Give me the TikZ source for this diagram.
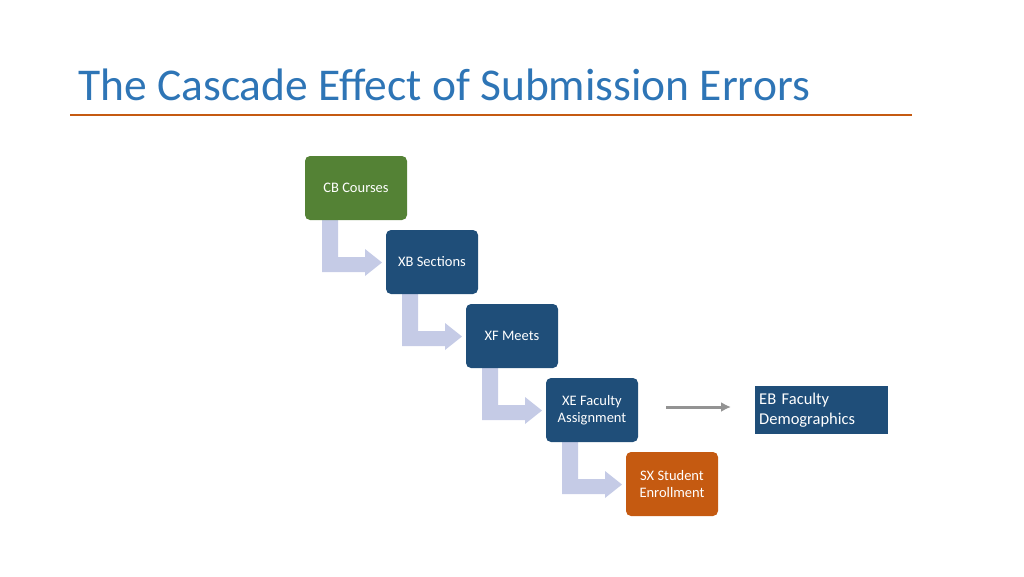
\documentclass[tikz,border=0pt]{standalone}
\usepackage{fontspec}
\setmainfont{Carlito}
\usetikzlibrary{arrows.meta}
\begin{document}
\begin{tikzpicture}[x=1pt,y=-1pt,
  box/.style={rounded corners=5pt,text=white,font=\fontsize{14.5}{17.5}\selectfont,align=center,inner sep=0pt},
  bent/.style={fill=bentc,draw=none}]
\definecolor{gr}{HTML}{548235}
\definecolor{bl}{HTML}{1F4E79}
\definecolor{og}{HTML}{C55A11}
\definecolor{bentc}{HTML}{C5CBE6}
\useasboundingbox (0,0) rectangle (1024,576);
\node[anchor=base west,font=\fontsize{45.5}{50}\selectfont,inner sep=0pt] (title) at (78,100) {\color[HTML]{2E75B6}The Cascade Effect of Submission Errors};
\coordinate (l1) at (70,115); \coordinate (l2) at (912,115);
\draw[og,line width=1.5pt] (l1) -- (l2);
\foreach \i in {0,1,2,3}{
  \fill[bentc,shift={(80*\i,74*\i)}] (322,220) -- (338,220) -- (338,257) -- (365,257) -- (365,249) -- (382,262.5) -- (365,276) -- (365,272) -- (322,272) -- cycle;
}
\node[box,fill=gr,minimum width=102pt,minimum height=64pt] (cb) at (356,188) {CB Courses};
\node[box,fill=bl,minimum width=92pt,minimum height=64pt] (xb) at (432,262) {XB Sections};
\node[box,fill=bl,minimum width=92pt,minimum height=64pt] (xf) at (512,336) {XF Meets};
\node[box,fill=bl,minimum width=92pt,minimum height=64pt] (xe) at (592,410) {XE Faculty\\Assignment};
\node[box,fill=og,minimum width=92pt,minimum height=64pt] (sx) at (672,484) {SX Student\\Enrollment};
\node[fill=bl,text=white,font=\fontsize{16.5}{20}\selectfont,align=left,minimum width=133pt,minimum height=48pt,text width=125pt,inner xsep=4pt,inner ysep=0pt,anchor=north west] (eb) at (755,386) {EB Faculty\\Demographics};
\coordinate (a1) at (666,407); \coordinate (a2) at (731,407);
\draw[gray!85,line width=3pt,-{Latex[length=10pt,width=10pt]}] (a1) -- (a2);
\end{tikzpicture}
\end{document}
